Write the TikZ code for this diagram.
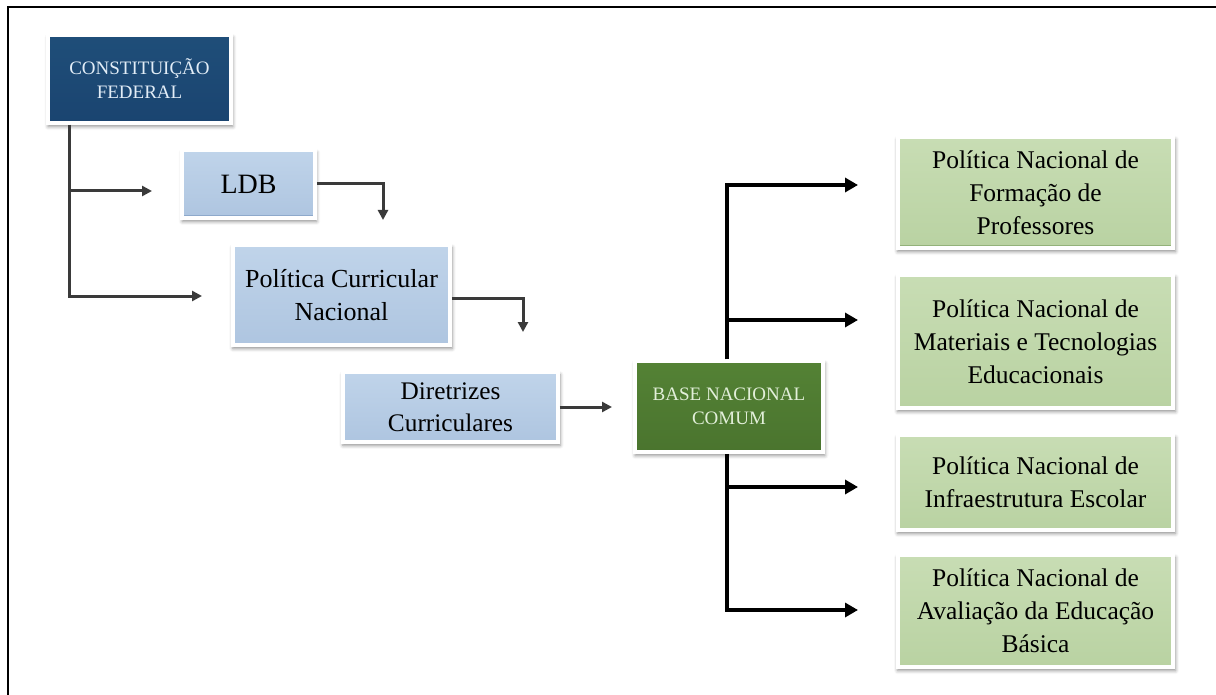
\documentclass[tikz,border=0pt]{standalone}
\usepackage{fontspec}
\setmainfont{Liberation Serif}
\usetikzlibrary{arrows.meta,shadows.blur}

\definecolor{cfblue}{HTML}{1F4E79}
\definecolor{cfblueb}{HTML}{1A4470}
\definecolor{cftext}{HTML}{E2EDF7}
\definecolor{lbtop}{HTML}{C0D4EA}
\definecolor{lbbot}{HTML}{AEC5E0}
\definecolor{lbedge}{HTML}{8EA9CB}
\definecolor{bncgreen}{HTML}{548235}
\definecolor{bncgreenb}{HTML}{4A742E}
\definecolor{bnctext}{HTML}{E2EFD9}
\definecolor{lgtop}{HTML}{C8DDB4}
\definecolor{lgbot}{HTML}{B9D2A2}
\definecolor{lgedge}{HTML}{93B27A}
\definecolor{darkline}{HTML}{3A3A3A}

\begin{document}
\begin{tikzpicture}[x=1pt,y=-1pt,
  box/.style={rectangle, inner sep=0pt, align=center, draw=white, line width=3.5pt,
    blur shadow={shadow xshift=1pt, shadow yshift=-3pt, shadow blur radius=3.5pt,
      shadow opacity=45, shadow scale=1.01}},
  darkbox/.style={box, font=\fontsize{19pt}{24pt}\selectfont},
  lightblue/.style={box, top color=lbtop, bottom color=lbbot,
    path picture={\draw[lbedge, line width=5pt]
      (path picture bounding box.south west) -- (path picture bounding box.south east);}},
  lightgreen/.style={box, top color=lgtop, bottom color=lgbot,
    font=\fontsize{25.5pt}{33pt}\selectfont, minimum width=275pt,
    path picture={\draw[lgedge, line width=5pt]
      (path picture bounding box.south west) -- (path picture bounding box.south east);}},
  lineL/.style={draw=darkline, line width=3pt},
  arrL/.style={lineL, -{Triangle[length=10pt,width=10pt]}},
  arrR/.style={draw=black, line width=4.2pt, -{Triangle[length=13pt,width=14pt]}}
]
\useasboundingbox (0,0) rectangle (1216,695);

% frame
\draw[line width=2pt] (8,695) -- (8,7) -- (1216,7);

% chain of documents
\node[darkbox, top color=cfblue, bottom color=cfblueb, text=cftext,
      minimum width=183pt, minimum height=88pt] (cf) at (139.5,79)
      {CONSTITUIÇÃO\\FEDERAL};
\node[lightblue, font=\fontsize{28pt}{33pt}\selectfont,
      minimum width=133pt, minimum height=68pt] (ldb) at (248.5,184) {LDB};
\node[lightblue, font=\fontsize{26pt}{33pt}\selectfont,
      minimum width=217pt, minimum height=100pt] (pcn) at (341.5,295)
      {Política Curricular\\Nacional};
\node[lightblue, font=\fontsize{25.3pt}{32pt}\selectfont,
      minimum width=215pt, minimum height=70pt] (dc) at (450.5,407)
      {Diretrizes\\Curriculares};
\node[darkbox, top color=bncgreen, bottom color=bncgreenb, text=bnctext,
      minimum width=188pt, minimum height=91pt] (bnc) at (729,406.5)
      {BASE NACIONAL\\COMUM};

% national policies
\node[lightgreen, minimum height=111pt] (g1) at (1035.5,192.5)
      {Política Nacional de\\Formação de\\Professores};
\node[lightgreen, minimum height=133pt] (g2) at (1035.5,341.5)
      {Política Nacional de\\Materiais e Tecnologias\\Educacionais};
\node[lightgreen, minimum height=95pt] (g3) at (1035.5,482.5)
      {Política Nacional de\\Infraestrutura Escolar};
\node[lightgreen, minimum height=112pt] (g4) at (1035.5,611)
      {Política Nacional de\\Avaliação da Educação\\Básica};

% left-hand connectors
\coordinate (cfTrunk) at (69,296);
\coordinate (ldbIn) at (152,191);
\coordinate (pcnIn) at (202,296);
\coordinate (pcnDrop) at (383,220);
\coordinate (dcDrop) at (523,332);
\coordinate (bncIn) at (612,407);

\draw[arrL] (cf.south -| cfTrunk) |- (pcnIn);
\draw[arrL] (ldbIn -| cfTrunk) -- (ldbIn);
\draw[arrL] (ldb.east) -| (pcnDrop);
\draw[arrL] ([yshift=-3pt]pcn.east) -| (dcDrop);
\draw[arrL] (dc.east) -- (bncIn);

% right-hand connectors
\coordinate (bTrunk) at (727,0);
\coordinate (g1In) at (858,185);
\coordinate (g2In) at (858,320);
\coordinate (g3In) at (858,487);
\coordinate (g4In) at (858,610);

\draw[arrR] (bnc.north -| bTrunk) |- (g1In);
\draw[arrR] (g2In -| bTrunk) -- (g2In);
\draw[arrR] (bnc.south -| bTrunk) |- (g4In);
\draw[arrR] (g3In -| bTrunk) -- (g3In);
\end{tikzpicture}
\end{document}
